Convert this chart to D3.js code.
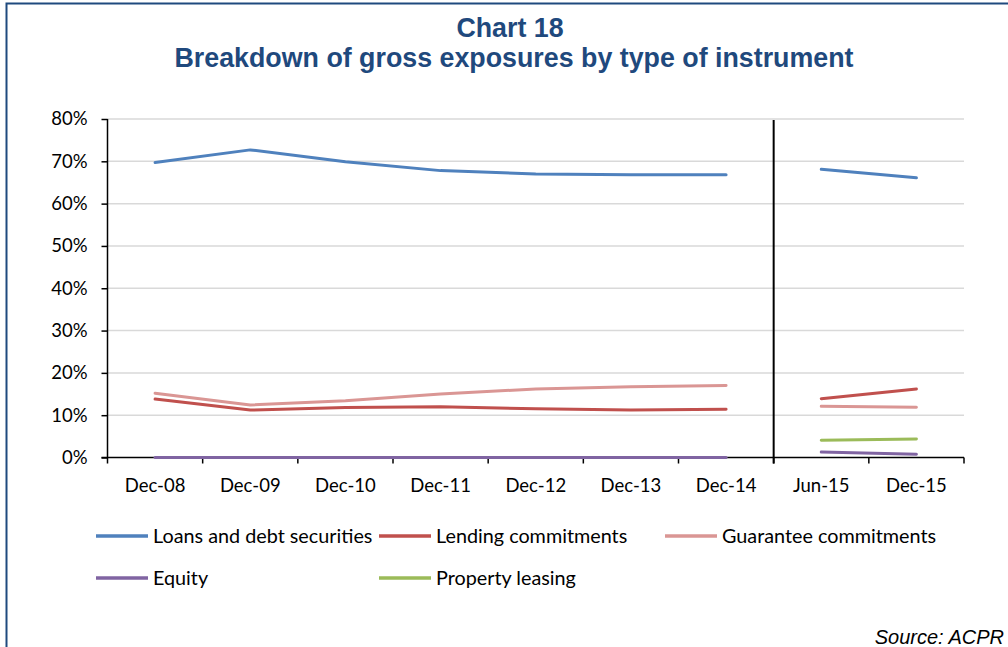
<!DOCTYPE html>
<html>
<head>
<meta charset="utf-8">
<script src="https://cdn.jsdelivr.net/npm/d3@7"></script>
<style>
  html, body { margin: 0; padding: 0; background: #fff; }
  svg { display: block; }
</style>
</head>
<body>
<svg id="chart" width="1008" height="647"></svg>
<script>
// Reporting dates; the series break between Dec-14 and Jun-15
const periods = ["Dec-08", "Dec-09", "Dec-10", "Dec-11", "Dec-12", "Dec-13", "Dec-14", "Jun-15", "Dec-15"];
const breakAfter = "Dec-14";

// Shares of gross exposures (%)
const loansDebt      = [69.7, 72.7, 69.9, 67.8, 67.0, 66.8, 66.8, 68.1, 66.1];
const lendingCommit  = [13.8, 11.2, 11.8, 12.0, 11.5, 11.2, 11.4, 13.9, 16.2];
const guaranteeComm  = [15.2, 12.4, 13.4, 15.0, 16.2, 16.7, 17.0, 12.1, 11.9];
const equity         = [0, 0, 0, 0, 0, 0, 0, 1.3, 0.75];
const propertyLease  = [null, null, null, null, null, null, null, 4.1, 4.4];

const seriesNames  = ["Loans and debt securities", "Lending commitments", "Guarantee commitments", "Equity", "Property leasing"];
const seriesColors = ["#4F81BD", "#C0504D", "#DA9694", "#8064A2", "#9BBB59"];
const yTicks = [0, 10, 20, 30, 40, 50, 60, 70, 80];

const seriesData = [loansDebt, lendingCommit, guaranteeComm, equity, propertyLease];

const svg = d3.select("#chart");

// Frame
svg.append("rect")
  .attr("x", 6.5).attr("y", 3.5)
  .attr("width", 1010).attr("height", 660)
  .attr("fill", "none")
  .attr("stroke", "#1F4A7E")
  .attr("stroke-width", 2);

// Title
const titleColor = "#1F497D";
svg.append("text")
  .attr("x", 510).attr("y", 37)
  .attr("text-anchor", "middle")
  .attr("font-family", "Liberation Sans, Arial, sans-serif")
  .attr("font-weight", "bold")
  .attr("font-size", 26.8)
  .attr("fill", titleColor)
  .text("Chart 18");
svg.append("text")
  .attr("x", 514).attr("y", 67)
  .attr("text-anchor", "middle")
  .attr("font-family", "Liberation Sans, Arial, sans-serif")
  .attr("font-weight", "bold")
  .attr("font-size", 26.8)
  .attr("fill", titleColor)
  .text("Breakdown of gross exposures by type of instrument");

// Plot area
const plotLeft = 107.5, plotRight = 964, plotTop = 119, plotBottom = 457.5;

const x = d3.scaleBand().domain(periods).range([plotLeft, plotRight]).padding(0);
const y = d3.scaleLinear().domain([0, 80]).range([plotBottom, plotTop]);

const labelFont = "Lato, 'Open Sans', sans-serif";

// Gridlines
svg.append("g")
  .selectAll("line")
  .data(yTicks.filter(d => d > 0))
  .join("line")
  .attr("x1", plotLeft).attr("x2", plotRight)
  .attr("y1", d => y(d)).attr("y2", d => y(d))
  .attr("stroke", "#D9D9D9")
  .attr("stroke-width", 1.5);

// Y axis
const yAxis = svg.append("g")
  .attr("transform", `translate(${plotLeft},0)`)
  .call(d3.axisLeft(y).tickValues(yTicks).tickFormat(d => d + "%").tickSize(6).tickPadding(14));
yAxis.select(".domain").remove();
yAxis.selectAll(".tick line").attr("stroke", "#000").attr("stroke-width", 1.5);
yAxis.selectAll("text")
  .attr("font-family", labelFont)
  .attr("font-size", 18.5)
  .attr("fill", "#000");
svg.append("line")
  .attr("x1", plotLeft).attr("x2", plotLeft)
  .attr("y1", plotTop).attr("y2", plotBottom + 6)
  .attr("stroke", "#000").attr("stroke-width", 1.5);

// X axis: labels centred on each period, ticks on period boundaries
const xAxis = svg.append("g")
  .attr("transform", `translate(0,${plotBottom})`)
  .call(d3.axisBottom(x).tickSize(0).tickPadding(21));
xAxis.select(".domain").remove();
xAxis.selectAll("text")
  .attr("font-family", labelFont)
  .attr("font-size", 18.5)
  .attr("fill", "#000");

svg.append("line")
  .attr("x1", plotLeft - 6).attr("x2", plotRight)
  .attr("y1", plotBottom).attr("y2", plotBottom)
  .attr("stroke", "#000").attr("stroke-width", 1.5);

const boundaries = periods.map(p => x(p)).concat([x(periods[periods.length - 1]) + x.bandwidth()]);
svg.append("g")
  .selectAll("line")
  .data(boundaries.slice(1))
  .join("line")
  .attr("x1", d => d).attr("x2", d => d)
  .attr("y1", plotBottom).attr("y2", plotBottom + 6)
  .attr("stroke", "#000").attr("stroke-width", 1.5);

// Break marker between the two reporting regimes
const breakX = x(breakAfter) + x.bandwidth();
svg.append("line")
  .attr("x1", breakX).attr("x2", breakX)
  .attr("y1", plotTop + 1).attr("y2", plotBottom + 6)
  .attr("stroke", "#000").attr("stroke-width", 2);

// Series lines, drawn as two separate segments either side of the break
const breakIdx = periods.indexOf(breakAfter);
const line = d3.line()
  .defined(d => d.v !== null)
  .x(d => x(d.p) + x.bandwidth() / 2)
  .y(d => y(d.v));

const gLines = svg.append("g");
seriesData.forEach((vals, i) => {
  const pts = vals.map((v, j) => ({ p: periods[j], v }));
  [pts.slice(0, breakIdx + 1), pts.slice(breakIdx + 1)].forEach(seg => {
    if (seg.filter(d => d.v !== null).length < 2) return;
    gLines.append("path")
      .datum(seg)
      .attr("d", line)
      .attr("fill", "none")
      .attr("stroke", seriesColors[i])
      .attr("stroke-width", 3)
      .attr("stroke-linecap", "round")
      .attr("stroke-linejoin", "round");
  });
});

// Legend
const legendPos = [
  { x: 96, y: 536 }, { x: 379, y: 536 }, { x: 665, y: 536 },
  { x: 96, y: 578 }, { x: 379, y: 578 }
];
const legend = svg.append("g")
  .selectAll("g")
  .data(seriesNames)
  .join("g")
  .attr("transform", (d, i) => `translate(${legendPos[i].x},${legendPos[i].y})`);
legend.append("line")
  .attr("x1", 0).attr("x2", 52)
  .attr("y1", 0).attr("y2", 0)
  .attr("stroke", (d, i) => seriesColors[i])
  .attr("stroke-width", 3.5);
legend.append("text")
  .attr("x", 57).attr("y", 0)
  .attr("dy", "0.35em")
  .attr("font-family", labelFont)
  .attr("font-size", 19.8)
  .attr("fill", "#000")
  .text(d => d);

// Source note
svg.append("text")
  .attr("x", 1004).attr("y", 644)
  .attr("text-anchor", "end")
  .attr("font-family", "Liberation Sans, Arial, sans-serif")
  .attr("font-style", "italic")
  .attr("font-size", 20)
  .attr("fill", "#000")
  .text("Source: ACPR");
</script>
</body>
</html>
